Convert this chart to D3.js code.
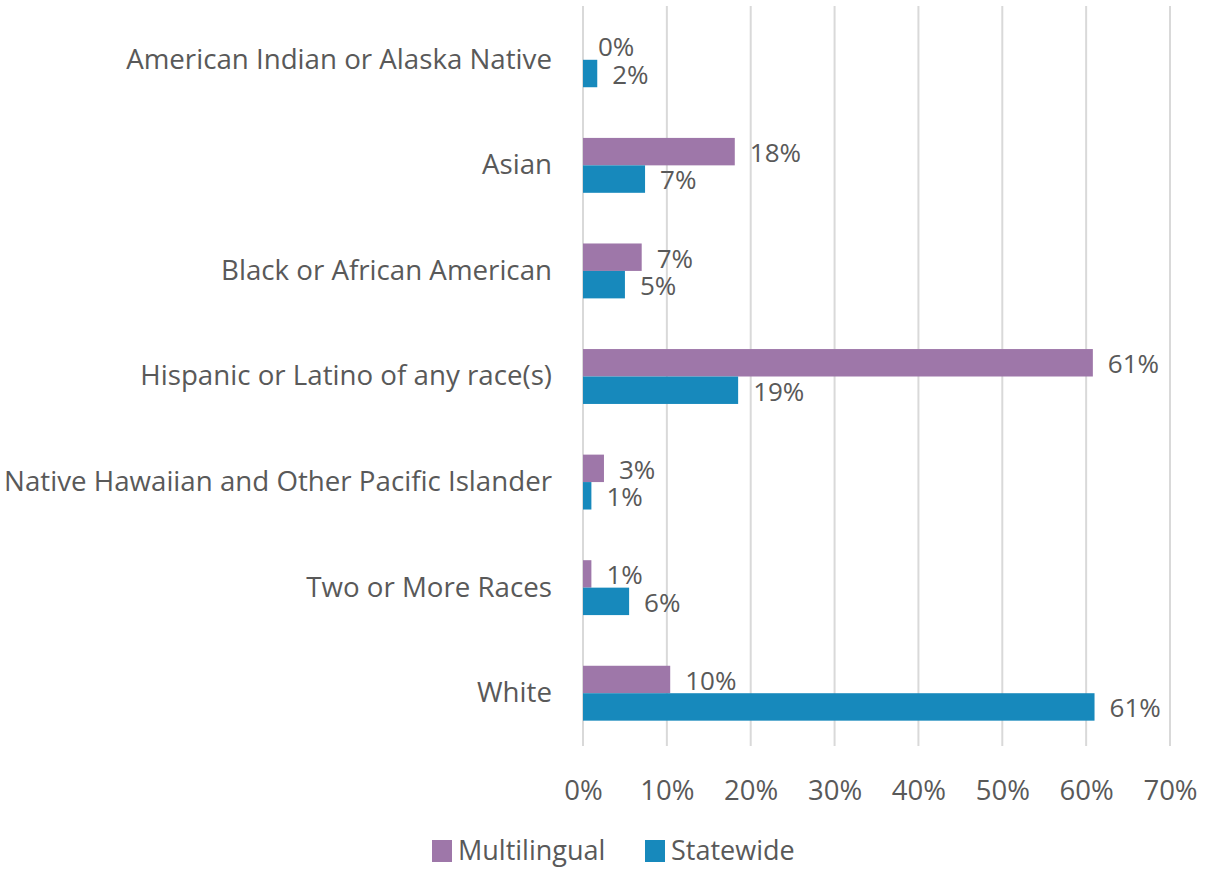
<!DOCTYPE html>
<html>
<head>
<meta charset="utf-8">
<script src="https://cdn.jsdelivr.net/npm/d3@7"></script>
<style>
  body { margin: 0; background: #fff; }
  svg text { font-family: "Segoe UI", "Open Sans", sans-serif; fill: #595959; }
</style>
</head>
<body>
<svg id="chart" width="1207" height="869"></svg>
<script>
var categories = [
  "American Indian or Alaska Native",
  "Asian",
  "Black or African American",
  "Hispanic or Latino of any race(s)",
  "Native Hawaiian and Other Pacific Islander",
  "Two or More Races",
  "White"
];
var seriesNames = ["Multilingual", "Statewide"];
var multilingual = [0.0, 18.1, 7.0, 60.8, 2.5, 1.0, 10.4];
var statewide = [1.7, 7.4, 5.0, 18.5, 1.0, 5.5, 61.0];
var xTicks = [0, 10, 20, 30, 40, 50, 60, 70];
var colors = ["#9e77a9", "#1789bc"];

var margin = { top: 7, left: 583, right: 37, bottom: 123 };
var width = 1207 - margin.left - margin.right;
var height = 869 - margin.top - margin.bottom;

var svg = d3.select("#chart");
var g = svg.append("g")
    .attr("transform", "translate(" + margin.left + "," + margin.top + ")");

var x = d3.scaleLinear().domain([0, 70]).range([0, width]);
var y = d3.scaleBand().domain(categories).range([0, height]).paddingInner(0.48).paddingOuter(0.24);
var ySub = d3.scaleBand().domain(seriesNames).range([0, y.bandwidth()]);

// grid lines
g.append("g")
    .selectAll("line")
    .data(xTicks)
    .enter().append("line")
    .attr("x1", function (d) { return x(d); })
    .attr("x2", function (d) { return x(d); })
    .attr("y1", -1)
    .attr("y2", height)
    .attr("stroke", "#d9d9d9")
    .attr("stroke-width", 2);

// x axis labels
var xAxis = g.append("g")
    .attr("transform", "translate(0," + height + ")")
    .call(d3.axisBottom(x).tickValues(xTicks).tickSize(0).tickPadding(34)
        .tickFormat(function (d) { return d + "%"; }));
xAxis.select(".domain").remove();
xAxis.selectAll("text").attr("font-size", 27.5).attr("fill", "#595959")
    .attr("font-family", "'Segoe UI', 'Open Sans', sans-serif");

// y axis labels
var yAxis = g.append("g")
    .call(d3.axisLeft(y).tickSize(0).tickPadding(31));
yAxis.select(".domain").remove();
yAxis.selectAll("text").attr("font-size", 27.7).attr("fill", "#595959")
    .attr("font-family", "'Segoe UI', 'Open Sans', sans-serif");

var rows = categories.map(function (c, i) {
  return { cat: c, values: [multilingual[i], statewide[i]] };
});

var groups = g.selectAll(".cat")
    .data(rows)
    .enter().append("g")
    .attr("class", "cat")
    .attr("transform", function (d) { return "translate(0," + y(d.cat) + ")"; });

groups.selectAll("rect")
    .data(function (d) { return d.values.map(function (v, j) { return { s: seriesNames[j], v: v, j: j }; }); })
    .enter().append("rect")
    .attr("x", 0)
    .attr("y", function (d) { return ySub(d.s); })
    .attr("width", function (d) { return x(d.v); })
    .attr("height", ySub.bandwidth())
    .attr("fill", function (d) { return colors[d.j]; });

groups.selectAll("text.val")
    .data(function (d) { return d.values.map(function (v, j) { return { s: seriesNames[j], v: v }; }); })
    .enter().append("text")
    .attr("class", "val")
    .attr("x", function (d) { return x(d.v) + 15; })
    .attr("y", function (d) { return ySub(d.s) + ySub.bandwidth() / 2; })
    .attr("dy", "0.4em")
    .attr("font-size", 26)
    .text(function (d) { return Math.round(d.v) + "%"; });

// legend
var legend = svg.append("g").attr("transform", "translate(432,851)");
var legendX = [0, 213];
seriesNames.forEach(function (s, i) {
  var item = legend.append("g").attr("transform", "translate(" + legendX[i] + ",0)");
  item.append("rect").attr("x", 0).attr("y", -11).attr("width", 20).attr("height", 22).attr("fill", colors[i]);
  item.append("text").attr("x", 26).attr("dy", "0.35em").attr("font-size", 27).text(s);
});
</script>
</body>
</html>
